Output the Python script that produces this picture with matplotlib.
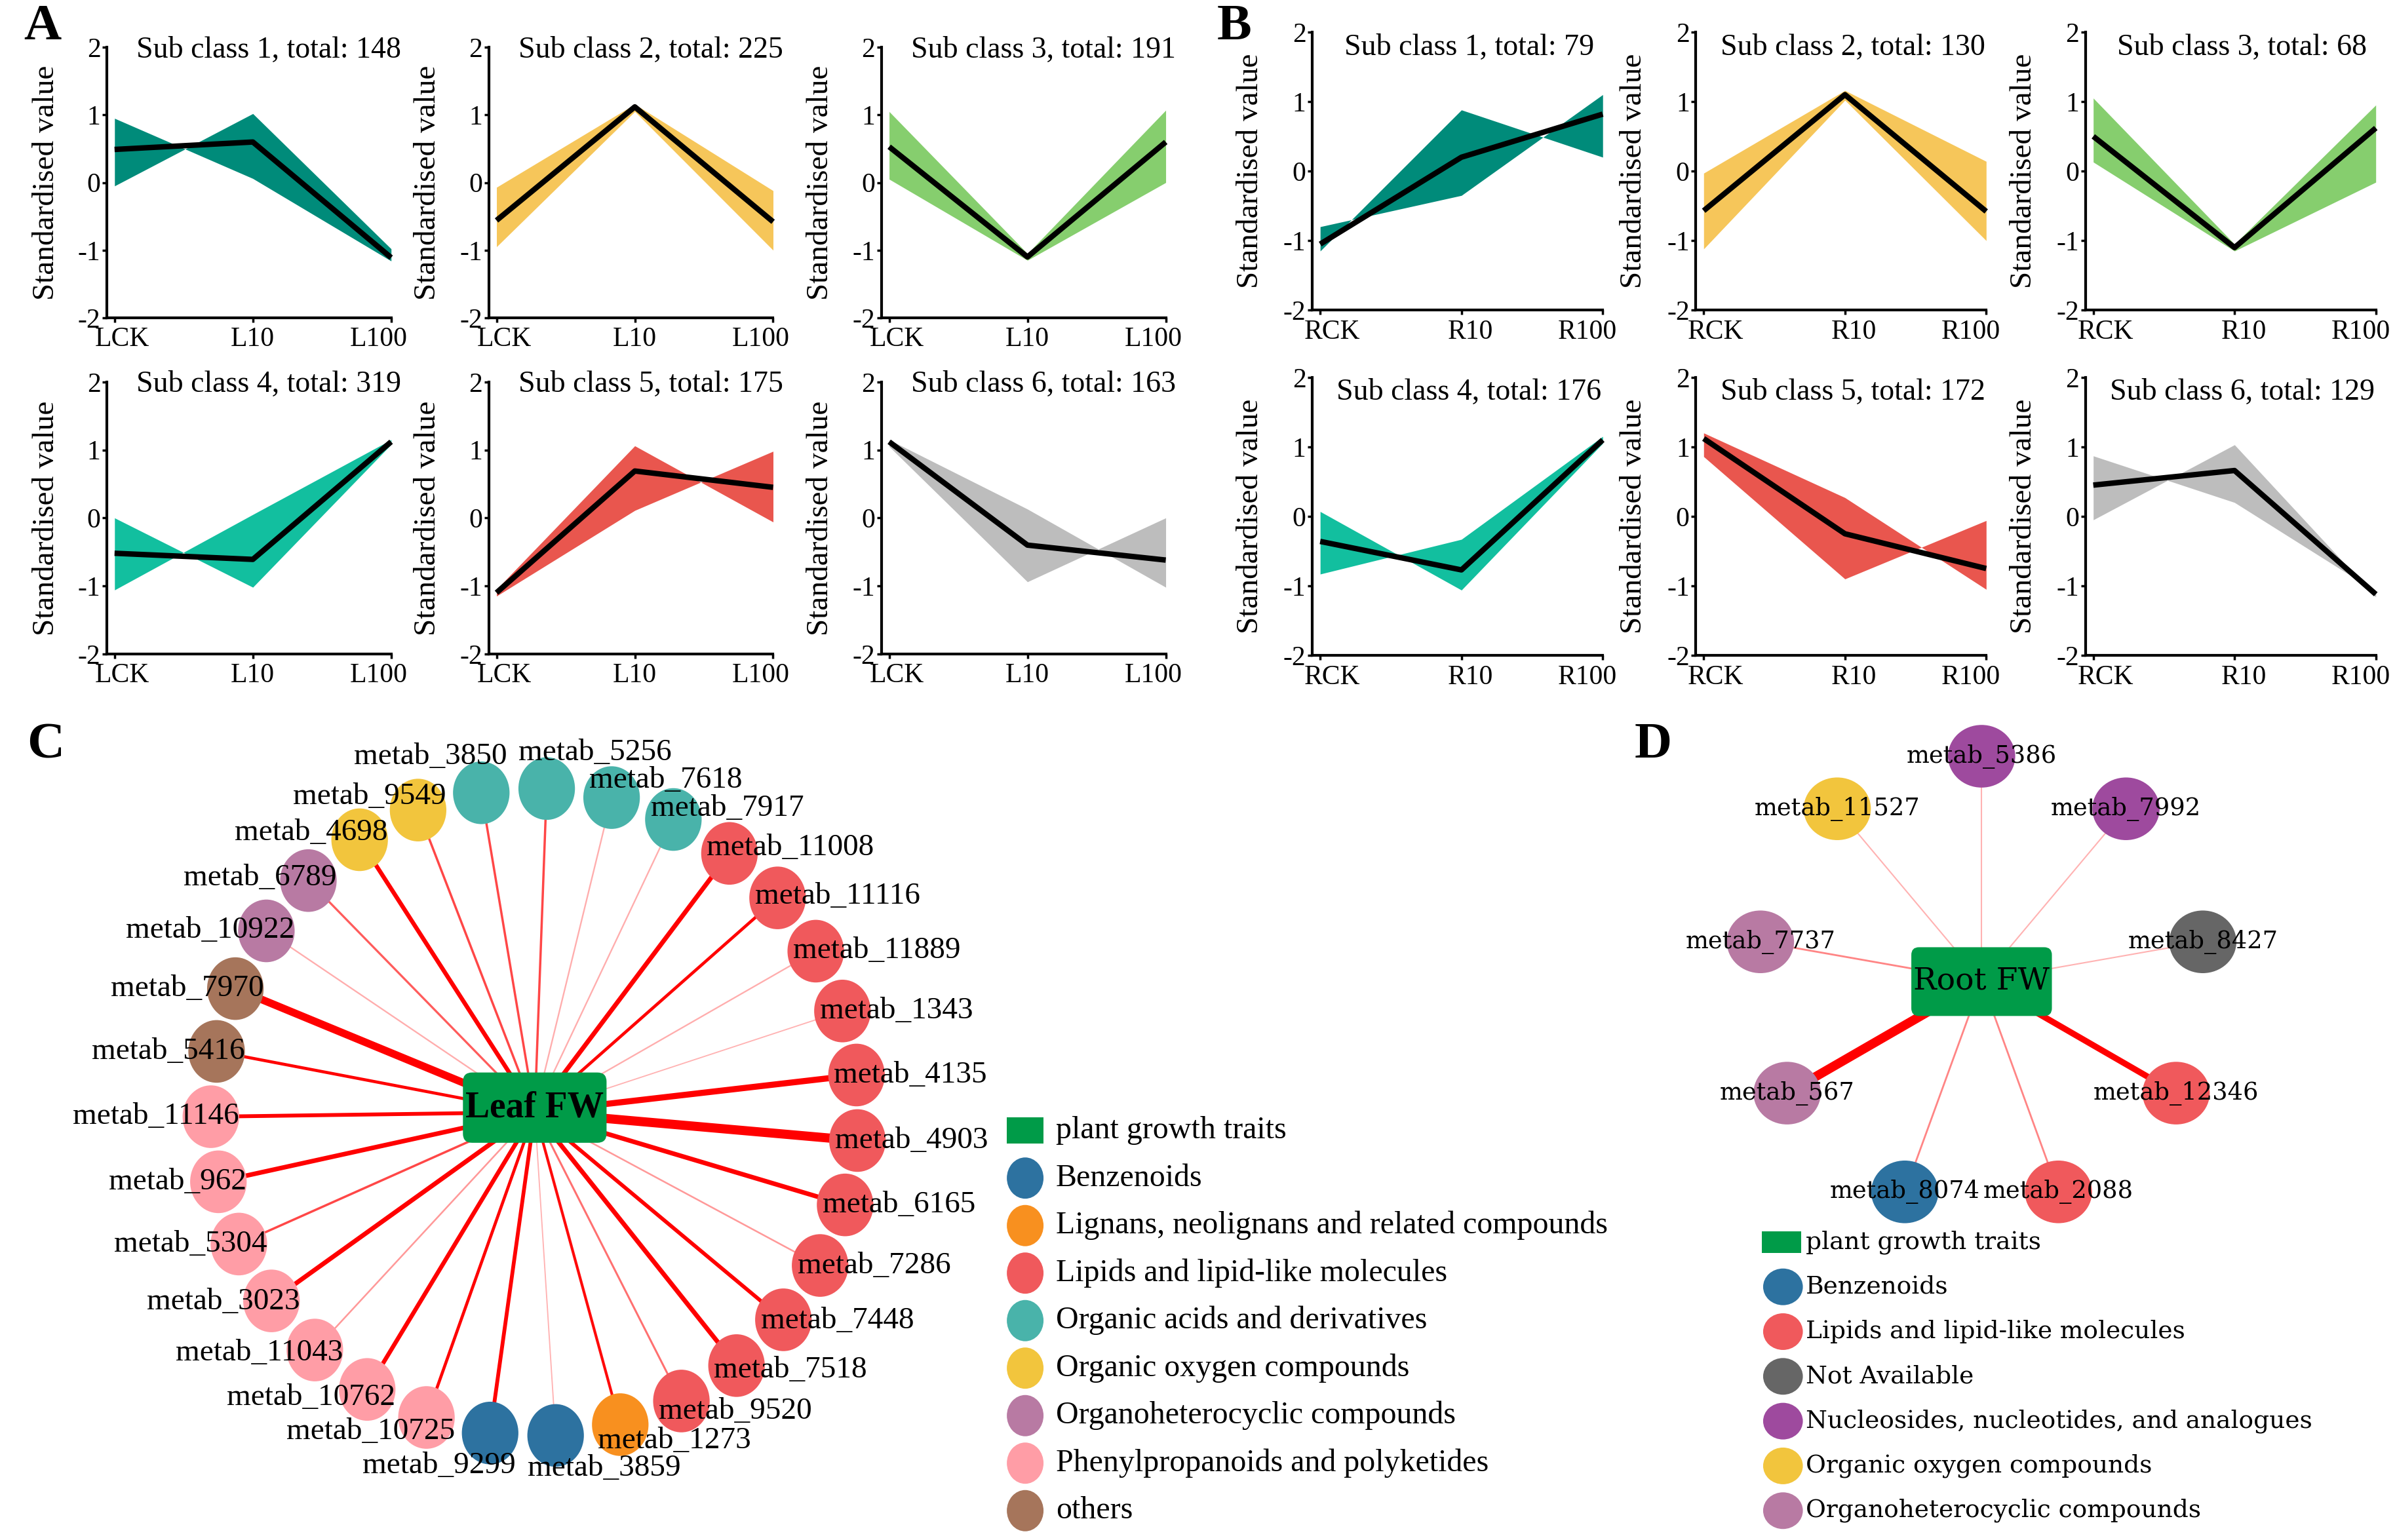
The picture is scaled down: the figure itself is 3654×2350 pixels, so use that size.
import matplotlib
matplotlib.use('Agg')
import matplotlib.pyplot as plt
import matplotlib.transforms as mtransforms
import numpy as np
from matplotlib.patches import Ellipse, FancyBboxPatch, Rectangle

plt.rcParams['font.family'] = ['Liberation Serif', 'DejaVu Serif']
plt.rcParams['axes.unicode_minus'] = False

# ---------------- data: cluster profiles ----------------
leaf_ticks = ['LCK', 'L10', 'L100']
root_ticks = ['RCK', 'R10', 'R100']
sub_colors = ['#008B7A', '#F6C65A', '#86CE6E', '#12BF9F', '#E9564E', '#BDBDBD']

leaf_totals = [148, 225, 191, 319, 175, 163]
leaf_mean = [[0.49, 0.60, -1.11], [-0.56, 1.12, -0.58], [0.53, -1.10, 0.60],
             [-0.52, -0.61, 1.12], [-1.10, 0.69, 0.45], [1.12, -0.40, -0.62]]
# two extreme member profiles bounding the band of each sub class
leaf_prof_a = [[0.95, 0.06, -1.16], [-0.07, 1.16, -0.12], [1.05, -1.05, 1.07],
               [0.00, -1.02, 1.08], [-1.05, 1.06, -0.06], [1.15, 0.13, -1.02]]
leaf_prof_b = [[-0.05, 1.02, -0.98], [-0.95, 1.05, -1.00], [0.05, -1.15, 0.00],
               [-1.06, 0.05, 1.15], [-1.15, 0.11, 0.98], [1.05, -0.94, 0.00]]

root_totals = [79, 130, 68, 176, 172, 129]
root_mean = [[-1.05, 0.20, 0.82], [-0.57, 1.10, -0.58], [0.50, -1.10, 0.62],
             [-0.36, -0.77, 1.10], [1.12, -0.25, -0.75], [0.45, 0.66, -1.12]]
root_prof_a = [[-0.80, -0.35, 1.10], [-0.03, 1.16, 0.14], [1.05, -1.05, 0.95],
               [0.07, -1.06, 1.05], [1.20, 0.27, -1.05], [0.87, 0.20, -1.08]]
root_prof_b = [[-1.15, 0.88, 0.20], [-1.12, 1.02, -1.00], [0.13, -1.15, -0.16],
               [-0.83, -0.33, 1.15], [0.86, -0.90, -0.06], [-0.05, 1.03, -1.16]]

# ---------------- data: correlation networks ----------------
class_colors = {
    'plant growth traits': '#009B48',
    'Benzenoids': '#2D72A0',
    'Lignans, neolignans and related compounds': '#F8901F',
    'Lipids and lipid-like molecules': '#F0595C',
    'Organic acids and derivatives': '#49B3AA',
    'Organic oxygen compounds': '#F2C53D',
    'Organoheterocyclic compounds': '#B87AA3',
    'Phenylpropanoids and polyketides': '#FF9DA6',
    'others': '#A6755B',
    'Not Available': '#666666',
    'Nucleosides, nucleotides, and analogues': '#9E4A9E',
}

leaf_nodes = ['metab_3850', 'metab_5256', 'metab_7618', 'metab_7917', 'metab_11008',
              'metab_11116', 'metab_11889', 'metab_1343', 'metab_4135', 'metab_4903',
              'metab_6165', 'metab_7286', 'metab_7448', 'metab_7518', 'metab_9520',
              'metab_1273', 'metab_3859', 'metab_9299', 'metab_10725', 'metab_10762',
              'metab_11043', 'metab_3023', 'metab_5304', 'metab_962', 'metab_11146',
              'metab_5416', 'metab_7970', 'metab_10922', 'metab_6789', 'metab_4698',
              'metab_9549']
leaf_class = (['Organic acids and derivatives'] * 4
              + ['Lipids and lipid-like molecules'] * 11
              + ['Lignans, neolignans and related compounds']
              + ['Benzenoids'] * 2
              + ['Phenylpropanoids and polyketides'] * 7
              + ['others'] * 2
              + ['Organoheterocyclic compounds'] * 2
              + ['Organic oxygen compounds'] * 2)
leaf_weight = [1.5, 1.5, 1.0, 1.0, 3.0, 2.0, 1.0, 0.8, 4.0, 6.0, 3.0, 1.1, 2.5, 3.0,
               1.3, 1.8, 0.8, 2.5, 2.0, 2.8, 1.1, 3.0, 1.5, 3.0, 2.5, 2.0, 5.0, 1.0,
               1.4, 2.8, 1.5]
leaf_legend = ['plant growth traits', 'Benzenoids', 'Lignans, neolignans and related compounds',
               'Lipids and lipid-like molecules', 'Organic acids and derivatives',
               'Organic oxygen compounds', 'Organoheterocyclic compounds',
               'Phenylpropanoids and polyketides', 'others']

root_nodes = ['metab_5386', 'metab_7992', 'metab_8427', 'metab_12346', 'metab_2088',
              'metab_8074', 'metab_567', 'metab_7737', 'metab_11527']
root_class = ['Nucleosides, nucleotides, and analogues', 'Nucleosides, nucleotides, and analogues',
              'Not Available', 'Lipids and lipid-like molecules', 'Lipids and lipid-like molecules',
              'Benzenoids', 'Organoheterocyclic compounds', 'Organoheterocyclic compounds',
              'Organic oxygen compounds']
root_weight = [0.9, 0.9, 0.9, 4.0, 1.2, 1.2, 6.0, 1.2, 0.9]
root_legend = ['plant growth traits', 'Benzenoids', 'Lipids and lipid-like molecules',
               'Not Available', 'Nucleosides, nucleotides, and analogues',
               'Organic oxygen compounds', 'Organoheterocyclic compounds']

# ---------------- figure ----------------
W, H = 1568, 1008          # layout grid
SC = 3655 / W              # layout px -> figure px
PX = SC * 0.72             # layout px -> points
fig = plt.figure(figsize=(36.55, 23.5), dpi=100)

canvas = fig.add_axes([0, 0, 1, 1])
canvas.set_xlim(0, W)
canvas.set_ylim(H, 0)
canvas.axis('off')


def profile_panel(left, top, bottom, width, ticks, k, total, mean, pa, pb, color, tpos, loffs):
    ax = fig.add_axes([left / W, 1 - bottom / H, width / W, (bottom - top) / H])
    x = np.arange(3)
    ax.fill_between(x, pa, pb, color=color, lw=0, clip_on=False)
    ax.plot(x, mean, color='black', lw=6, clip_on=False, solid_capstyle='butt')
    ax.set_xlim(-0.055, 2)
    ax.set_ylim(-2, 2)
    ax.set_xticks(x)
    ax.set_xticklabels(ticks)
    ax.set_yticks([-2, -1, 0, 1, 2])
    for s in ['top', 'right']:
        ax.spines[s].set_visible(False)
    for s in ['left', 'bottom']:
        ax.spines[s].set_linewidth(3)
    ax.tick_params(labelsize=30, width=2.5, length=5, pad=2)
    ax.tick_params(axis='x', pad=5)
    # end labels sit slightly inside the axis span
    for lab, d in zip(ax.get_xticklabels(), loffs):
        lab.set_transform(lab.get_transform()
                          + mtransforms.ScaledTranslation(d * SC / 100, 0, fig.dpi_scale_trans))
    ax.set_ylabel('Standardised value', fontsize=34)
    ax.yaxis.set_label_coords(-0.165, 0.5)
    ax.text(tpos[0], tpos[1], 'Sub class %d, total: %d' % (k, total), transform=ax.transAxes,
            ha='center', va='center', fontsize=33)
    ax.patch.set_alpha(0)
    return ax


A_left = [70, 320, 577]
A_rows = [(31, 208), (250, 428)]
B_left = [859, 1110, 1365]
B_rows = [(21, 203), (247, 429)]
for i in range(6):
    r, c = divmod(i, 3)
    profile_panel(A_left[c], A_rows[r][0], A_rows[r][1], 186, leaf_ticks, i + 1,
                  leaf_totals[i], leaf_mean[i], leaf_prof_a[i], leaf_prof_b[i],
                  sub_colors[i], (0.57, 0.99), [5, 0, -8])
    profile_panel(B_left[c], B_rows[r][0], B_rows[r][1], 190, root_ticks, i + 1,
                  root_totals[i], root_mean[i], root_prof_a[i], root_prof_b[i],
                  sub_colors[i], (0.54, 0.945), [8, 6, -10])


def edge_style(w):
    return w * PX, float(np.clip((w - 0.6) * 0.8, 0.3, 1.0))


# ---- panel C: Leaf FW network ----
cx, cy, rad = 350, 728, 212
rx, ry = 18.5, 20.5
n = len(leaf_nodes)
ang = np.deg2rad(99.5 - 360.0 / n * np.arange(n))
nx = cx + rad * np.cos(ang)
ny = cy - rad * np.sin(ang)
for i in range(n):
    lw, a = edge_style(leaf_weight[i])
    canvas.plot([cx, nx[i]], [cy, ny[i]], color='#FF0000', lw=lw, alpha=a, zorder=1,
                solid_capstyle='butt')
for i in range(n):
    canvas.add_patch(Ellipse((nx[i], ny[i]), 2 * rx, 2 * ry, color=class_colors[leaf_class[i]],
                             lw=0, zorder=3))
    c, s = np.cos(ang[i]), np.sin(ang[i])
    if abs(c) < 0.2:
        ty = ny[i] - 1.15 * ry if s > 0 else ny[i] + 1.05 * ry
        if c < 0:
            tx, ha = nx[i] + 0.9 * rx, 'right'
        else:
            tx, ha = nx[i] - rx, 'left'
    else:
        ty = ny[i] - 0.65 * ry * s * abs(s) ** 5
        if c > 0:
            tx, ha = nx[i] - 0.8 * rx, 'left'
        else:
            tx, ha = nx[i] + rx, 'right'
    canvas.text(tx, ty, leaf_nodes[i], ha=ha, va='center', fontsize=34, zorder=5)
canvas.add_patch(FancyBboxPatch((cx - 47, cy - 26), 94, 46,
                                boxstyle='round,pad=0,rounding_size=6',
                                color=class_colors['plant growth traits'], lw=0, zorder=4))
canvas.text(cx, cy - 3, 'Leaf FW', ha='center', va='center', fontsize=40,
            fontweight='bold', zorder=5)

for j, name in enumerate(leaf_legend):
    y = 740 + 31.1 * j
    if j == 0:
        canvas.add_patch(Rectangle((659, y - 8.5), 24, 17, color=class_colors[name], lw=0))
    else:
        canvas.add_patch(Ellipse((671, y), 24, 27, color=class_colors[name], lw=0))
    canvas.text(691, y, name, ha='left', va='center', fontsize=34.5)

# ---- panel D: Root FW network ----
dfont = 'DejaVu Serif'
cx, cy, rad = 1297, 642, 147
m = len(root_nodes)
ang = np.deg2rad(90 - 360.0 / m * np.arange(m))
nx = cx + rad * np.cos(ang)
ny = cy - rad * np.sin(ang)
for i in range(m):
    lw, a = edge_style(root_weight[i])
    canvas.plot([cx, nx[i]], [cy, ny[i]], color='#FF0000', lw=lw, alpha=a, zorder=1,
                solid_capstyle='butt')
for i in range(m):
    canvas.add_patch(Ellipse((nx[i], ny[i]), 44, 41, color=class_colors[root_class[i]],
                             lw=0, zorder=3))
    canvas.text(nx[i], ny[i], root_nodes[i], ha='center', va='center', fontsize=26.5,
                family=dfont, zorder=5)
canvas.add_patch(FancyBboxPatch((cx - 46, cy - 22), 92, 45,
                                boxstyle='round,pad=0,rounding_size=5',
                                color=class_colors['plant growth traits'], lw=0, zorder=4))
canvas.text(cx, cy, 'Root FW', ha='center', va='center', fontsize=34, family=dfont, zorder=5)

for j, name in enumerate(root_legend):
    y = 813 + 29.3 * j
    if j == 0:
        canvas.add_patch(Rectangle((1153, y - 7), 26, 14, color=class_colors[name], lw=0))
    else:
        canvas.add_patch(Ellipse((1167, y), 26, 24, color=class_colors[name], lw=0))
    canvas.text(1182, y, name, ha='left', va='center', fontsize=27, family=dfont)

# ---- panel letters ----
for lab, x, y in [('A', 28, 18), ('B', 808, 18), ('C', 30, 488), ('D', 1082, 488)]:
    canvas.text(x, y, lab, ha='center', va='center', fontsize=57, fontweight='bold')

fig.savefig('out.png', dpi=100)
